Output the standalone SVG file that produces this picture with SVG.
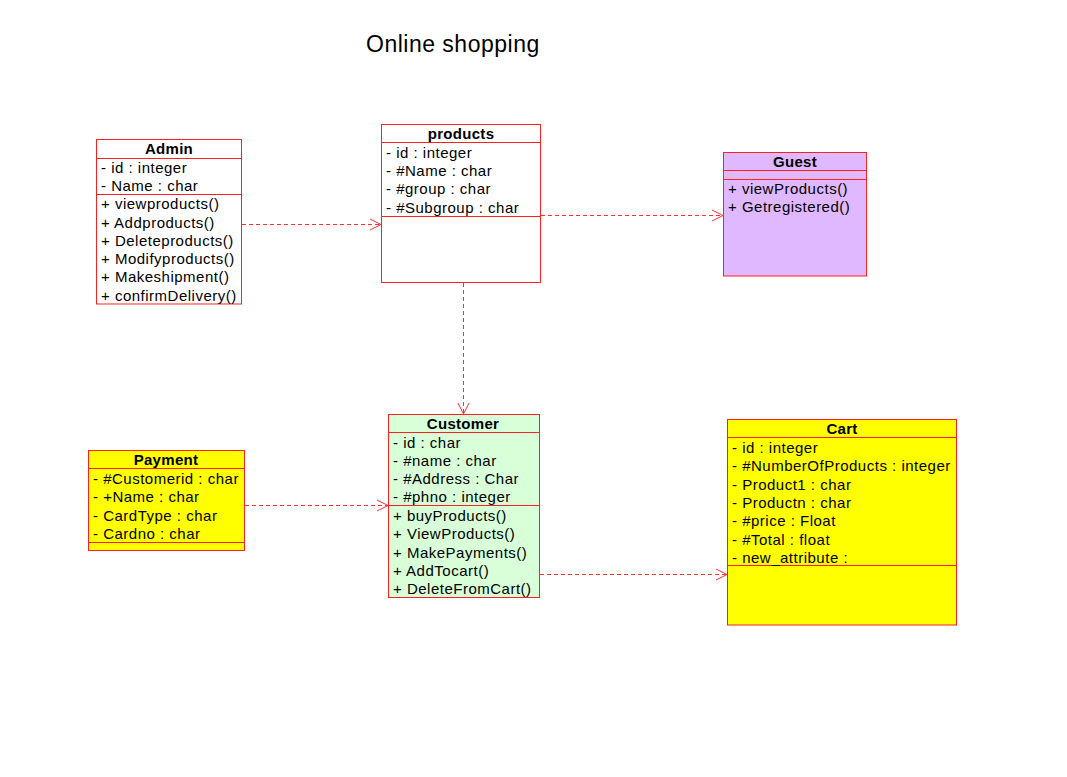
<svg xmlns="http://www.w3.org/2000/svg" width="1067" height="777" viewBox="0 0 1067 777">
<style>
.box{stroke:#ff2020;stroke-width:1}
.sep{stroke:#ff2020;stroke-width:1;fill:none}
.t{font-family:"Liberation Sans",Arial,sans-serif;font-size:15px;letter-spacing:0.5px;fill:#000}
.n{font-family:"Liberation Sans",Arial,sans-serif;font-size:15px;font-weight:bold;letter-spacing:0.3px;fill:#000;text-anchor:middle}
.title{font-family:"Liberation Sans",Arial,sans-serif;font-size:23px;letter-spacing:0.5px;fill:#000}
.dep{stroke:#ff3030;stroke-width:1;stroke-dasharray:4,3;fill:none}
.head{stroke:#ff3030;stroke-width:1;fill:none}
</style>
<rect width="1067" height="777" fill="#fff"/>
<text class="title" x="366" y="52">Online shopping</text>

<g id="connectors">
<line class="dep" x1="242" y1="224.5" x2="380" y2="224.5"/>
<path class="head" d="M370,219 L381,224.5 L370,230"/>
<line class="dep" x1="541" y1="215.5" x2="722" y2="215.5"/>
<path class="head" d="M712,210 L723,215.5 L712,221"/>
<line class="dep" x1="463.5" y1="283" x2="463.5" y2="413"/>
<path class="head" d="M458,403 L463.5,414 L469,403"/>
<line class="dep" x1="245" y1="505.5" x2="387" y2="505.5"/>
<path class="head" d="M377,500 L388,505.5 L377,511"/>
<line class="dep" x1="540" y1="574.5" x2="726" y2="574.5"/>
<path class="head" d="M716,569 L727,574.5 L716,580"/>
</g>

<g id="admin">
<rect class="box" x="96.5" y="139.5" width="145" height="164.5" fill="#fff"/>
<line class="sep" x1="96.5" y1="158.5" x2="241.5" y2="158.5"/>
<line class="sep" x1="96.5" y1="194.5" x2="241.5" y2="194.5"/>
<text class="n" x="169" y="153.5">Admin</text>
<text class="t" x="101" y="172.5">- id : integer</text>
<text class="t" x="101" y="190.5">- Name : char</text>
<text class="t" x="101" y="209">+ viewproducts()</text>
<text class="t" x="101" y="227.5">+ Addproducts()</text>
<text class="t" x="101" y="245.5">+ Deleteproducts()</text>
<text class="t" x="101" y="264">+ Modifyproducts()</text>
<text class="t" x="101" y="282">+ Makeshipment()</text>
<text class="t" x="101" y="300.5">+ confirmDelivery()</text>
</g>

<g id="products">
<rect class="box" x="381.5" y="124.5" width="159" height="158" fill="#fff"/>
<line class="sep" x1="381.5" y1="142.5" x2="540.5" y2="142.5"/>
<line class="sep" x1="381.5" y1="216.5" x2="540.5" y2="216.5"/>
<text class="n" x="461" y="138.5">products</text>
<text class="t" x="386" y="157.5">- id : integer</text>
<text class="t" x="386" y="176">- #Name : char</text>
<text class="t" x="386" y="194">- #group : char</text>
<text class="t" x="386" y="212.5">- #Subgroup : char</text>
</g>

<g id="guest">
<rect class="box" x="723.5" y="152.5" width="143" height="123.5" fill="#e0b8ff"/>
<line class="sep" x1="723.5" y1="170.5" x2="866.5" y2="170.5"/>
<line class="sep" x1="723.5" y1="179.5" x2="866.5" y2="179.5"/>
<text class="n" x="795" y="166.5">Guest</text>
<text class="t" x="728" y="193.5">+ viewProducts()</text>
<text class="t" x="728" y="212">+ Getregistered()</text>
</g>

<g id="payment">
<rect class="box" x="88.5" y="450.5" width="156" height="100" fill="#ffff00"/>
<line class="sep" x1="88.5" y1="468.5" x2="244.5" y2="468.5"/>
<line class="sep" x1="88.5" y1="542.5" x2="244.5" y2="542.5"/>
<text class="n" x="166" y="464.5">Payment</text>
<text class="t" x="93" y="483.5">- #Customerid : char</text>
<text class="t" x="93" y="501.5">- +Name : char</text>
<text class="t" x="93" y="520.5">- CardType : char</text>
<text class="t" x="93" y="538.5">- Cardno : char</text>
</g>

<g id="customer">
<rect class="box" x="388.5" y="414.5" width="151" height="183" fill="#d8ffd8"/>
<line class="sep" x1="388.5" y1="432.5" x2="539.5" y2="432.5"/>
<line class="sep" x1="388.5" y1="505.5" x2="539.5" y2="505.5"/>
<text class="n" x="463" y="428.5">Customer</text>
<text class="t" x="393" y="447.5">- id : char</text>
<text class="t" x="393" y="465.5">- #name : char</text>
<text class="t" x="393" y="484">- #Address : Char</text>
<text class="t" x="393" y="502">- #phno : integer</text>
<text class="t" x="393" y="520.5">+ buyProducts()</text>
<text class="t" x="393" y="538.5">+ ViewProducts()</text>
<text class="t" x="393" y="557.5">+ MakePayments()</text>
<text class="t" x="393" y="575.5">+ AddTocart()</text>
<text class="t" x="393" y="593.5">+ DeleteFromCart()</text>
</g>

<g id="cart">
<rect class="box" x="727.5" y="419.5" width="229" height="205.5" fill="#ffff00"/>
<line class="sep" x1="727.5" y1="437.5" x2="956.5" y2="437.5"/>
<line class="sep" x1="727.5" y1="565.5" x2="956.5" y2="565.5"/>
<text class="n" x="842" y="433.5">Cart</text>
<text class="t" x="732" y="452.5">- id : integer</text>
<text class="t" x="732" y="470.5">- #NumberOfProducts : integer</text>
<text class="t" x="732" y="489.5">- Product1 : char</text>
<text class="t" x="732" y="507.5">- Productn : char</text>
<text class="t" x="732" y="525.5">- #price : Float</text>
<text class="t" x="732" y="544.5">- #Total : float</text>
<text class="t" x="732" y="562.5">- new_attribute :</text>
</g>
</svg>
